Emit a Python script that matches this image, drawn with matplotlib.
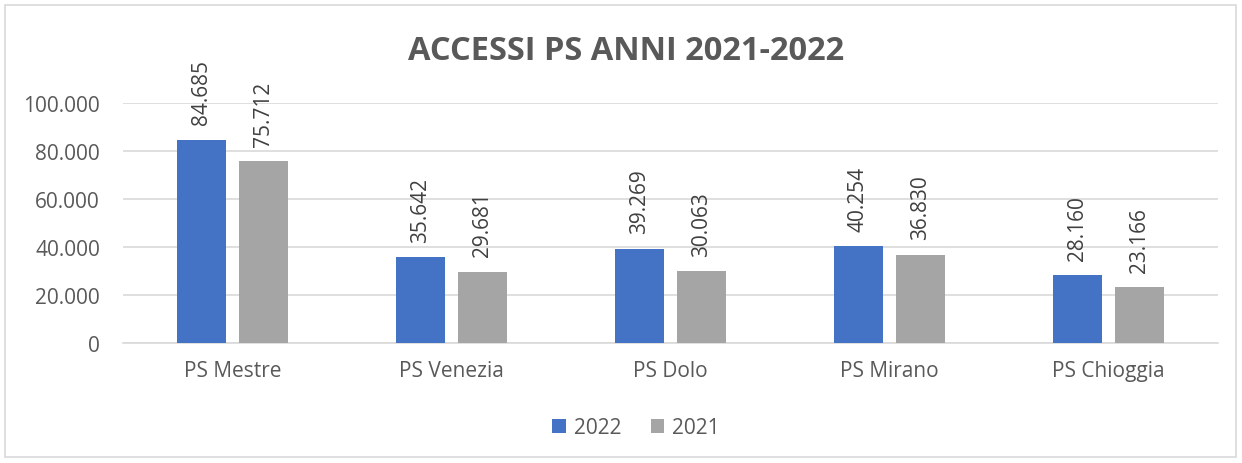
import matplotlib
matplotlib.use("Agg")
import matplotlib.pyplot as plt
import numpy as np
from matplotlib.patches import Rectangle
from matplotlib.ticker import FuncFormatter

categories = ["PS Mestre", "PS Venezia", "PS Dolo", "PS Mirano", "PS Chioggia"]
v2022 = [84685, 35642, 39269, 40254, 28160]
v2021 = [75712, 29681, 30063, 36830, 23166]
series_names = ["2022", "2021"]
title = "ACCESSI PS ANNI 2021-2022"

W, H = 1242, 464
fig = plt.figure(figsize=(W/100, H/100), dpi=100)
plt.rcParams['font.family'] = ['Open Sans', 'DejaVu Sans']

# outer border
fig.patches.append(Rectangle((5/W, 6/H), (1236-5)/W, (458-6)/H, transform=fig.transFigure,
                             fill=False, edgecolor='#d9d9d9', linewidth=1.2))

left, right, top, bottom = 123, 1218, 104, 344
ax = fig.add_axes([left/W, 1-bottom/H, (right-left)/W, (bottom-top)/H])

x = np.arange(len(categories))
bw = 0.224
off = 0.1416
c22, c21 = '#4472c4', '#a5a5a5'
b1 = ax.bar(x - off, v2022, bw, color=c22, label=series_names[0], zorder=3)
b2 = ax.bar(x + off, v2021, bw, color=c21, label=series_names[1], zorder=3)

def fmt(v):
    return f"{v:,.0f}".replace(",", ".")

for bars, vals in ((b1, v2022), (b2, v2021)):
    for r, v in zip(bars, vals):
        ax.annotate(fmt(v), (r.get_x() + r.get_width()/2, v), xytext=(0, 11),
                    textcoords='offset points', rotation=90, ha='center', va='bottom',
                    fontsize=15, color='#404040')

ax.set_xlim(-0.5, len(categories) - 0.5)
ax.set_ylim(0, 100000)
ax.set_yticks(np.arange(0, 100001, 20000))
ax.yaxis.set_major_formatter(FuncFormatter(lambda v, p: fmt(v)))
ax.set_xticks(x)
ax.set_xticklabels(categories)
ax.tick_params(axis='both', length=0, labelsize=15, colors='#595959')
ax.tick_params(axis='x', pad=12)
ax.tick_params(axis='y', pad=16.5)
ax.grid(axis='y', color='#d9d9d9', linewidth=1.2, zorder=0)
ax.set_axisbelow(True)
for s in ['top', 'right', 'left']:
    ax.spines[s].set_visible(False)
ax.spines['bottom'].set_color('#d9d9d9')
ax.spines['bottom'].set_linewidth(1.2)

fig.text(0.5*(411+842)/W, 1-51/H, title, ha='center', va='center', fontsize=23.5,
         fontweight='bold', color='#595959')

fig.legend(handles=[b1, b2], labels=series_names, loc='center', bbox_to_anchor=(636/W, 1-429/H),
           ncol=2, frameon=False, fontsize=15, labelcolor='#595959', handlelength=0.65,
           handleheight=0.65, handletextpad=0.4, columnspacing=1.4)

fig.savefig("out.png", dpi=100)
